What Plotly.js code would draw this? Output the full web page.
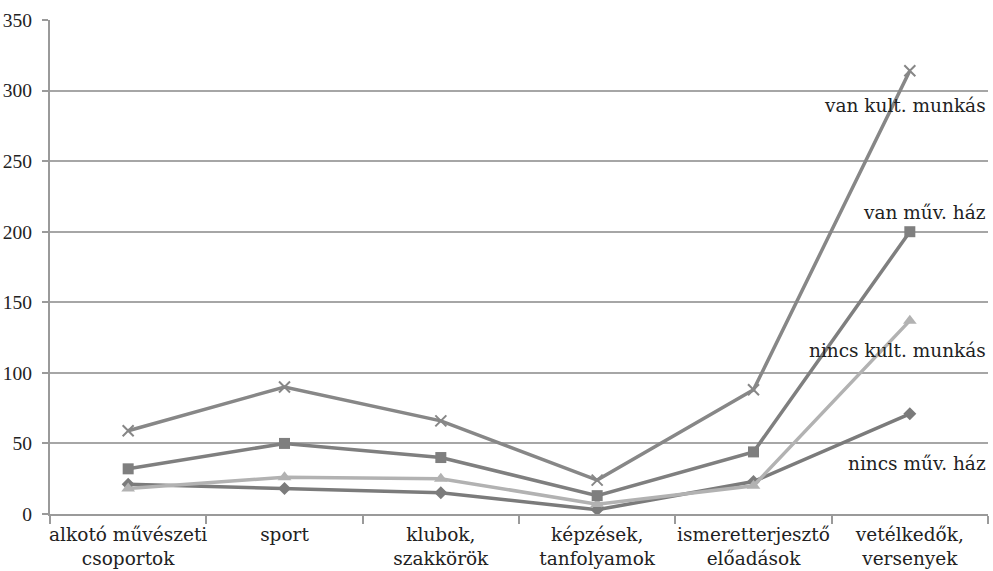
<!DOCTYPE html>
<html><head><meta charset="utf-8">
<script src="https://cdn.plot.ly/plotly-3.0.1.min.js"></script>
<style>body{margin:0;background:#fff}#chart{width:993px;height:571px}</style>
</head><body><div id="chart"></div>
<script>
const categories = ["alkotó művészeti<br>csoportok","sport","klubok,<br>szakkörök","képzések,<br>tanfolyamok","ismeretterjesztő<br>előadások","vetélkedők,<br>versenyek"];
const vanKult = [59, 90, 66, 24, 88, 314];
const vanMuv = [32, 50, 40, 13, 44, 200];
const nincsKult = [18, 26, 25, 7, 20, 137];
const nincsMuv = [21, 18, 15, 3, 23, 71];
const seriesNames = ["van kult. munkás","van műv. ház","nincs kult. munkás","nincs műv. ház"];
const yTicks = [0,50,100,150,200,250,300,350];

const font = "'DejaVu Serif', serif";
const tickFont = "'Liberation Serif', serif";
const fs = 18.5;
function tr(y, name, color, symbol, size){
  return {x: categories, y: y, name: name, type:"scatter", mode:"lines+markers",
    line:{color:color, width:3.5}, marker:{symbol:symbol, size:size, color:color, line:{color:color, width:symbol==="x-thin"?2:0}}};
}
const data = [
  tr(nincsMuv, seriesNames[3], "#7b7b7b", "diamond", 10),
  tr(nincsKult, seriesNames[2], "#b2b2b2", "triangle-up", 12),
  tr(vanMuv, seriesNames[1], "#7f7f7f", "square", 11),
  tr(vanKult, seriesNames[0], "#878787", "x-thin", 11)
];
const ann = [
  {t:seriesNames[0], py:105},
  {t:seriesNames[1], py:213},
  {t:seriesNames[2], py:350},
  {t:seriesNames[3], py:463}
].map(a => ({xref:"paper", yref:"paper", x:1, y:(514-a.py)/494, xanchor:"right", yanchor:"middle",
  text:a.t, showarrow:false, font:{family:font, size:fs, color:"#222"}}));

const layout = {
  width:993, height:571, margin:{l:50, r:5, t:20, b:57},
  paper_bgcolor:"#fff", plot_bgcolor:"#fff", showlegend:false,
  font:{family:font, size:fs, color:"#222"},
  xaxis:{type:"category", range:[-0.5,5.5], tickson:"boundaries", ticks:"outside", ticklen:8, tickwidth:2,
    tickcolor:"#9a9a9a", showline:true, linecolor:"#9a9a9a", linewidth:2, showgrid:false, tickangle:0,
    tickfont:{family:font, size:fs, color:"#222"}, ticklabelstandoff:3},
  yaxis:{range:[0,350], tickvals:yTicks, ticks:"outside", ticklen:6, tickwidth:2, tickcolor:"#9a9a9a",
    showline:true, linecolor:"#9a9a9a", linewidth:2, gridcolor:"#a6a6a6", gridwidth:2, zeroline:false,
    tickfont:{family:tickFont, size:19.5, color:"#222"}, ticklabelstandoff:6},
  annotations: ann
};
Plotly.newPlot("chart", data, layout, {displayModeBar:false, staticPlot:true});
</script></body></html>
